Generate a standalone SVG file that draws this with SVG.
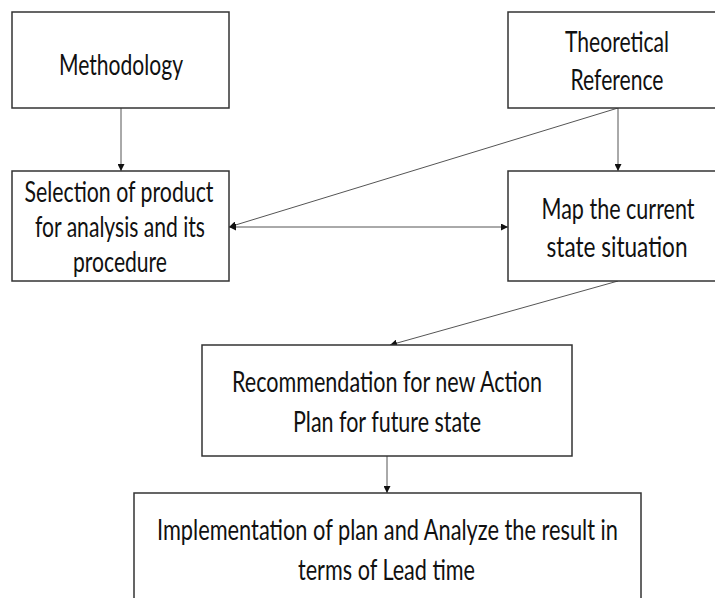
<svg xmlns="http://www.w3.org/2000/svg" width="715" height="598" viewBox="0 0 715 598">
<style>
.box{fill:#fff;stroke:#333;stroke-width:1.5}
.t{font-family:Lato,"Liberation Sans",sans-serif;font-size:29px;fill:#111;text-anchor:middle}
.c{stroke:#555;stroke-width:1;fill:none}
</style>
<defs>
<marker id="ah" viewBox="0 0 10 10" refX="10" refY="5" markerWidth="7" markerHeight="7" markerUnits="userSpaceOnUse" orient="auto-start-reverse">
<path d="M0,0 L10,5 L0,10 z" fill="#111"/>
</marker>
</defs>
<rect width="715" height="598" fill="#fff"/>
<g id="connectors">
<line class="c" x1="121" y1="108" x2="121" y2="171" marker-end="url(#ah)"/>
<line class="c" x1="618" y1="108" x2="618" y2="171" marker-end="url(#ah)"/>
<line class="c" x1="618" y1="108" x2="229" y2="227" marker-end="url(#ah)"/>
<line class="c" x1="229" y1="227" x2="508" y2="227" marker-start="url(#ah)" marker-end="url(#ah)"/>
<line class="c" x1="618" y1="281" x2="390" y2="345" marker-end="url(#ah)"/>
<line class="c" x1="387" y1="456" x2="387" y2="493" marker-end="url(#ah)"/>
</g>
<g id="methodology">
<rect class="box" x="12" y="12" width="217" height="96"/>
<text class="t" x="121" y="75" textLength="124" lengthAdjust="spacingAndGlyphs">Methodology</text>
</g>
<g id="theoretical">
<rect class="box" x="508" y="12" width="208" height="96"/>
<text class="t" x="617" y="52" textLength="104" lengthAdjust="spacingAndGlyphs">Theoretical</text>
<text class="t" x="617" y="90" textLength="93" lengthAdjust="spacingAndGlyphs">Reference</text>
</g>
<g id="selection">
<rect class="box" x="12" y="171" width="217" height="110"/>
<text class="t" x="119" y="202" textLength="189" lengthAdjust="spacingAndGlyphs">Selection of product</text>
<text class="t" x="120" y="237" textLength="170" lengthAdjust="spacingAndGlyphs">for analysis and its</text>
<text class="t" x="120" y="272" textLength="94" lengthAdjust="spacingAndGlyphs">procedure</text>
</g>
<g id="map">
<rect class="box" x="508" y="171" width="208" height="110"/>
<text class="t" x="618" y="219" textLength="153" lengthAdjust="spacingAndGlyphs">Map the current</text>
<text class="t" x="617" y="257" textLength="141" lengthAdjust="spacingAndGlyphs">state situation</text>
</g>
<g id="recommendation">
<rect class="box" x="202" y="345" width="370" height="111"/>
<text class="t" x="387" y="392" textLength="310" lengthAdjust="spacingAndGlyphs">Recommendation for new Action</text>
<text class="t" x="387" y="432" textLength="188" lengthAdjust="spacingAndGlyphs">Plan for future state</text>
</g>
<g id="implementation">
<rect class="box" x="134" y="493" width="507" height="106"/>
<text class="t" x="387.5" y="540" textLength="461" lengthAdjust="spacingAndGlyphs">Implementation of plan and Analyze the result in</text>
<text class="t" x="386.5" y="580" textLength="177" lengthAdjust="spacingAndGlyphs">terms of Lead time</text>
</g>
</svg>
